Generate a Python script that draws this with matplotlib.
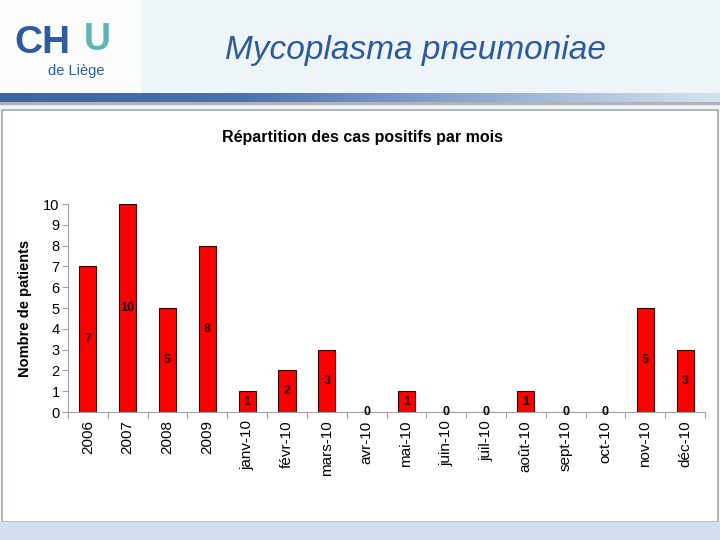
import numpy as np
import matplotlib.pyplot as plt
from matplotlib.patches import Rectangle
from matplotlib.colors import LinearSegmentedColormap

# data
categories = ["2006", "2007", "2008", "2009", "janv-10", "févr-10", "mars-10",
              "avr-10", "mai-10", "juin-10", "juil-10", "août-10", "sept-10",
              "oct-10", "nov-10", "déc-10"]
patients = [7, 10, 5, 8, 1, 2, 3, 0, 1, 0, 0, 1, 0, 0, 5, 3]

W, H = 720, 540
fig = plt.figure(figsize=(7.2, 5.4), dpi=100)
fig.patch.set_facecolor("#eef5f8")

def px(x, y, w, h):
    # pixel box (top-left origin) -> figure fraction
    return (x / W, 1 - (y + h) / H, w / W, h / H)

#slide header: white area on the left, gradient bar
fig.patches.append(Rectangle(px(0, 0, 140, 95)[:2], 140 / W, 95 / H,
                             transform=fig.transFigure, color="#fbfdfd", zorder=-3))
grad = fig.add_axes(px(0, 93, 720, 9))
grad.imshow(np.linspace(0, 1, 256).reshape(1, -1), aspect="auto",
            cmap=LinearSegmentedColormap.from_list(
                "g", ["#3b63a6", "#4a72b0", "#8fabd2", "#d6e2ef"]))
grad.axis("off")
fig.patches.append(Rectangle(px(0, 102, 720, 2)[:2], 1, 2 / H,
                             transform=fig.transFigure, color="#b0b4b8", zorder=-3))

#logo
fig.text(14 / W, 1 - 43 / H, "CH", fontsize=28, color="#2f5c9e", fontweight="bold",
         va="center", ha="left", family="Liberation Sans")
fig.text(84 / W, 1 - 40 / H, "U", fontsize=27, color="#5bb6b4", fontweight="bold",
         va="center", ha="left", family="Liberation Sans")
fig.text(48 / W, 1 - 71 / H, "de Liège", fontsize=10.5, color="#2f5c9e",
         va="center", ha="left", family="Liberation Sans")

fig.text(416 / W, 1 - 50 / H, "Mycoplasma pneumoniae", fontsize=24, style="italic",
         color="#2e5a9c", ha="center", va="center", family="Liberation Sans")

#chart panel and bottom band
fig.patches.append(Rectangle(px(2, 110, 716, 412)[:2], 716 / W, 412 / H,
                             transform=fig.transFigure, facecolor="white",
                             edgecolor="#a8a8a8", lw=1.2, zorder=-2))
fig.patches.append(Rectangle((0, 0), 1, 18 / H, transform=fig.transFigure,
                             color="#d3dff0", zorder=-2))

ax = fig.add_axes(px(68, 204, 637, 208))
x = np.arange(len(categories))
bars = ax.bar(x, patients, width=0.43, color="#ff0000", edgecolor="#3a0000", lw=0.8)
for xi, v in zip(x, patients):
    ax.text(xi, v / 2 if v > 0 else 0, str(v), ha="center", va="center",
            fontsize=9, fontweight="bold", color="#1a0000" if v > 0 else "black",
            family="Liberation Sans")

ax.set_xlim(-0.5, len(categories) - 0.5)
ax.set_ylim(0, 10)
ax.set_yticks(range(0, 11))
ax.set_xticks(np.arange(-0.5, len(categories), 1.0))
ax.set_xticklabels([])
ax.set_xticks(x, minor=True)
ax.set_xticklabels(categories, minor=True, rotation=90, fontsize=11,
                   family="Liberation Sans")
ax.tick_params(axis="x", which="minor", length=0, pad=6)
ax.tick_params(axis="x", which="major", length=4, color="#a0a0a0", direction="out")
ax.tick_params(axis="y", length=4, color="#a0a0a0", labelsize=10.5, pad=2)
for lab in ax.get_yticklabels():
    lab.set_family("Liberation Sans")
for s in ["top", "right"]:
    ax.spines[s].set_visible(False)
ax.spines["left"].set_color("#a0a0a0")
ax.spines["bottom"].set_color("#a0a0a0")
ax.patch.set_alpha(0)
ax.set_ylabel("Nombre de patients", fontsize=10.5, fontweight="bold",
              family="Liberation Sans", labelpad=8)

fig.text(362 / W, 1 - 137 / H, "Répartition des cas positifs par mois", fontsize=11.5,
         fontweight="bold", ha="center", va="center", family="Liberation Sans")

fig.savefig("out.png", dpi=100)
